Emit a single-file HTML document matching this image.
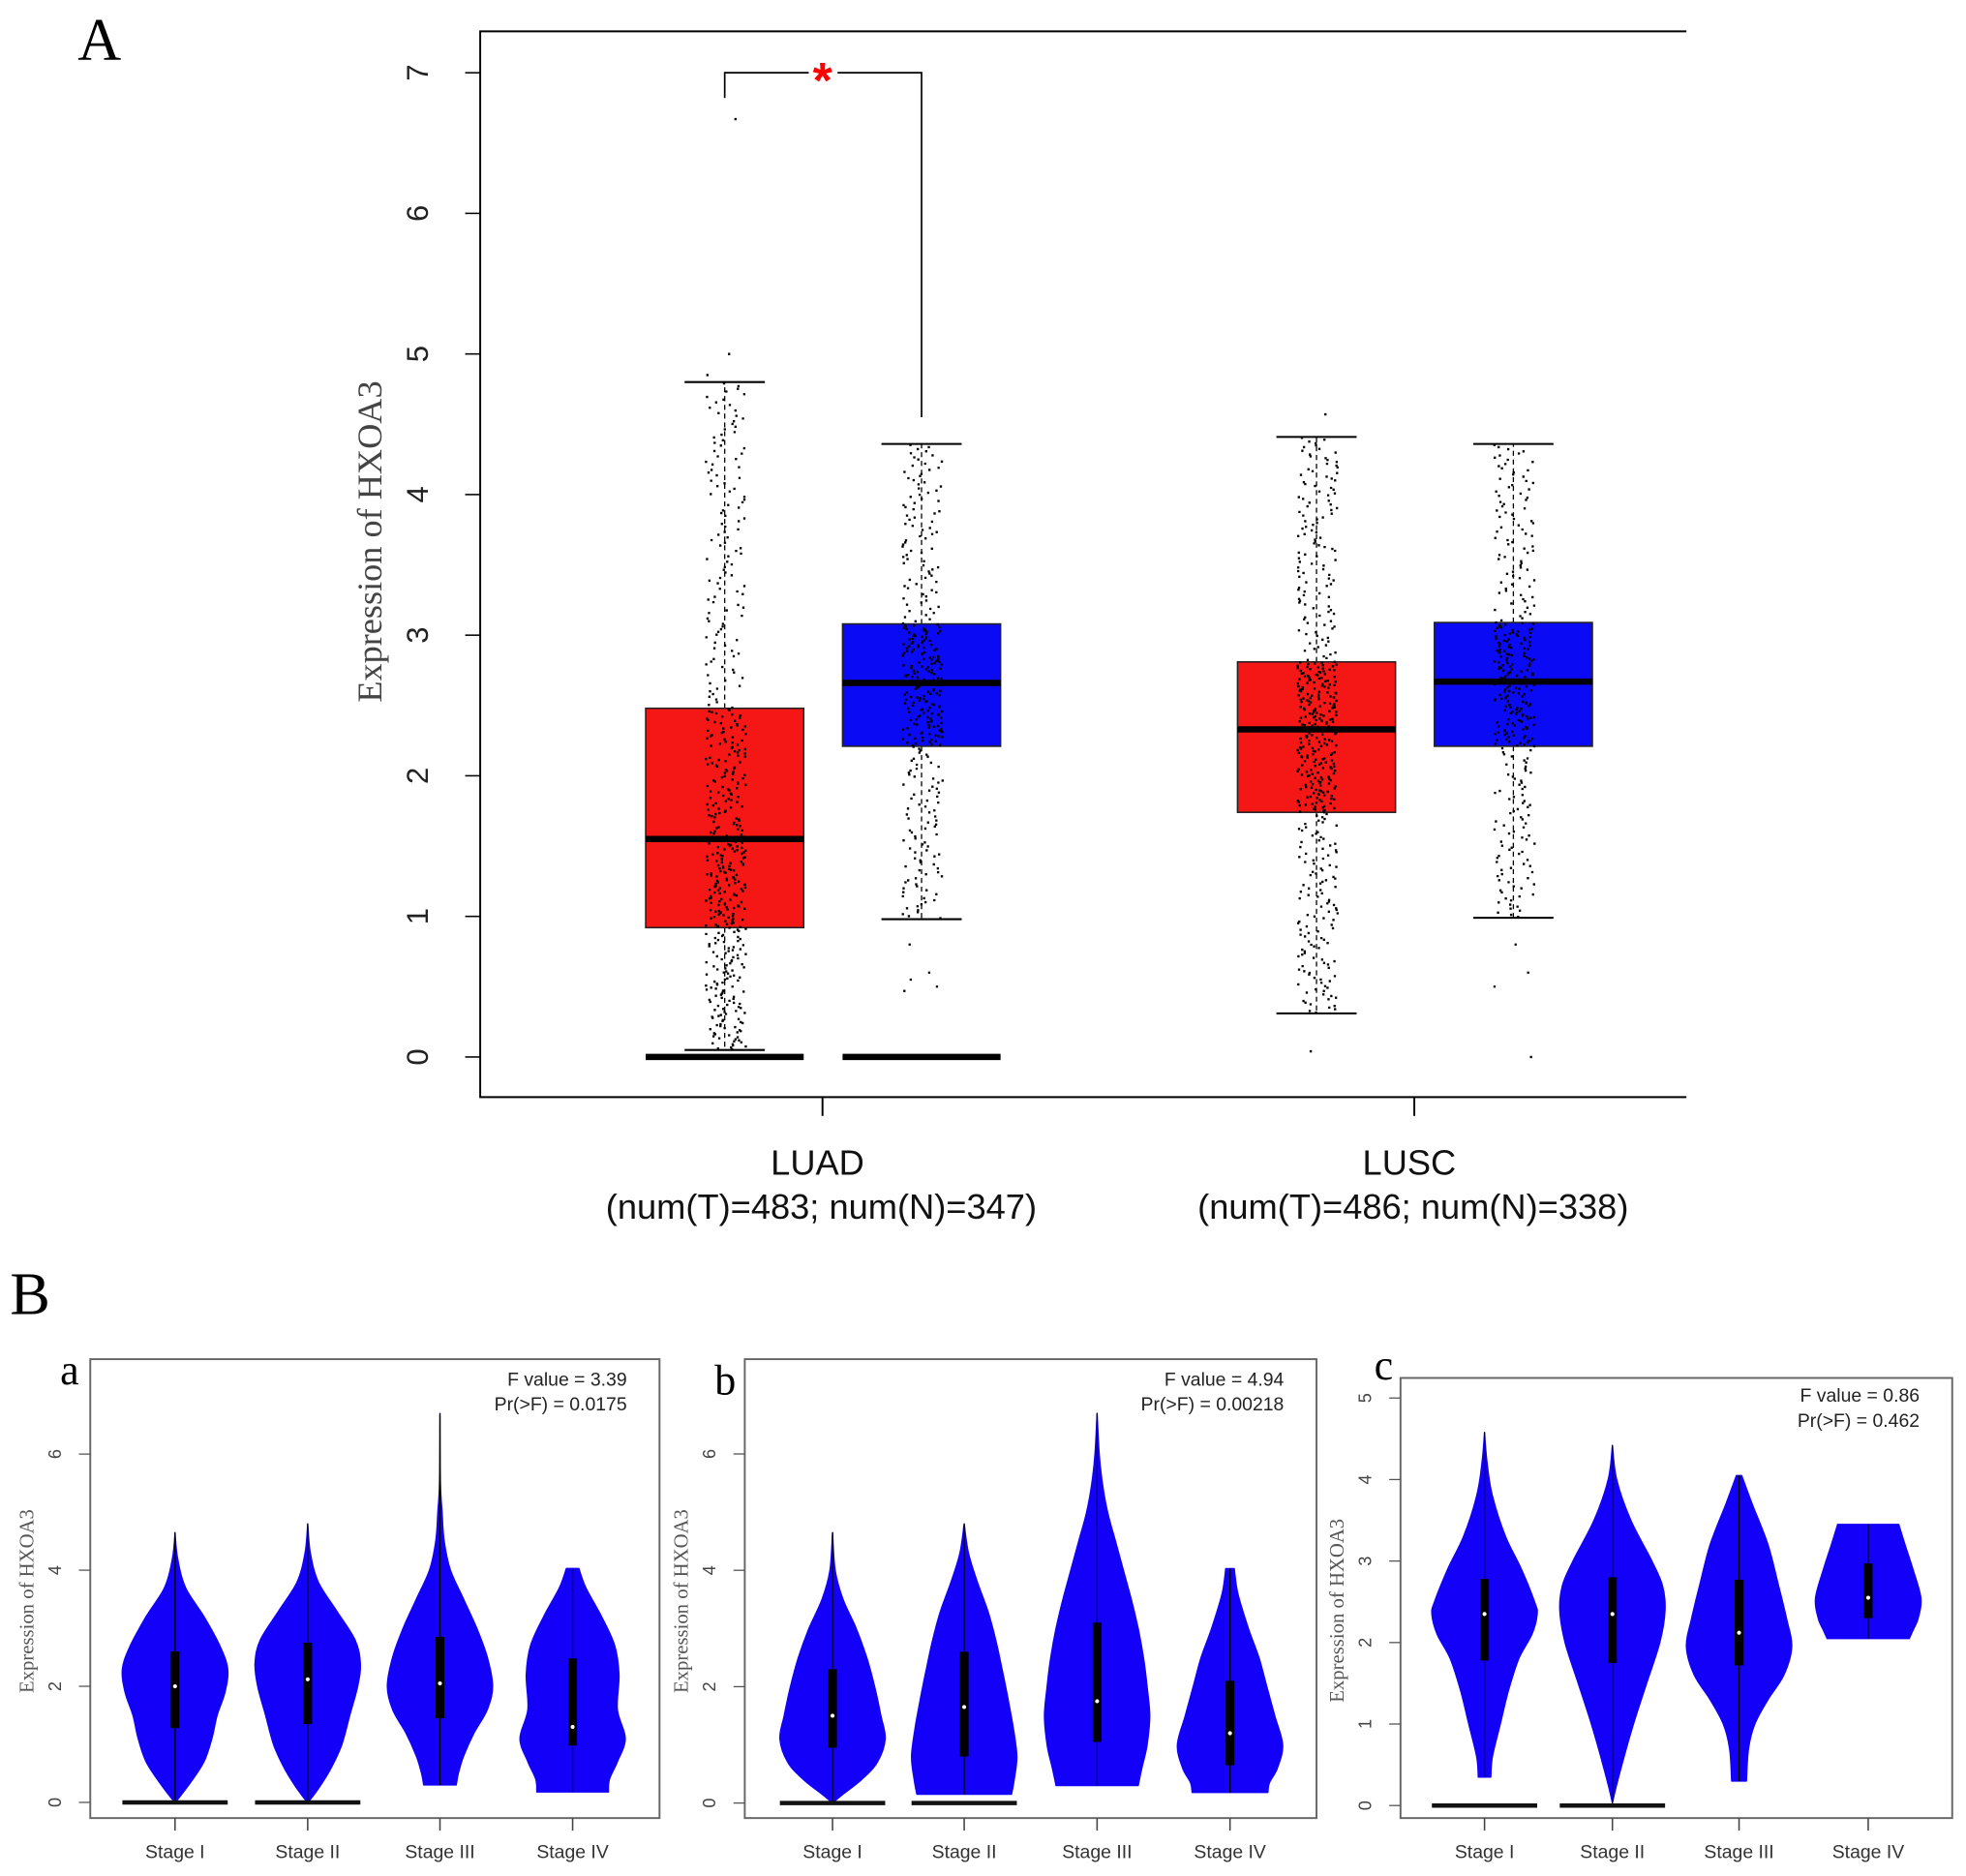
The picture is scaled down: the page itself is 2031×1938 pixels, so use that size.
<!DOCTYPE html>
<html><head><meta charset="utf-8"><style>
html,body{margin:0;padding:0;background:#fff;}
svg{display:block;}
</style></head><body>
<svg id="fig" xmlns="http://www.w3.org/2000/svg" width="2031" height="1938" viewBox="0 0 1568 1496.2" preserveAspectRatio="none">
<rect width="1568" height="1496.2" fill="#fff"/>
<g id="panelA"></g>
<g id="panelB"></g>
</svg>
<script>
// ---------- Panel A data ----------
const groupNames = ["LUAD", "LUSC"];
const groupCounts = ["(num(T)=483; num(N)=347)", "(num(T)=486; num(N)=338)"];
const tumorStats = [[0.05, 0.92, 1.55, 2.48, 4.80], [0.31, 1.74, 2.33, 2.81, 4.41]];
const normalStats = [[0.98, 2.21, 2.66, 3.08, 4.36], [0.99, 2.21, 2.67, 3.09, 4.36]];
const tumorN = [483, 486];
const normalN = [347, 338];
const tumorOutliers = [[6.67, 5.0, 4.85], [4.57, 0.04]];
const normalOutliers = [[0.6, 0.5, 0.55, 0.8, 0.47], [0.0, 0.6, 0.8, 0.5]];
const zeroBarT = [true, false];
const zeroBarN = [true, false];
const yTicksA = [0, 1, 2, 3, 4, 5, 6, 7];

// ---------- Panel B data ----------
const stageLabels = ["Stage I", "Stage II", "Stage III", "Stage IV"];
const panelLetters = ["a", "b", "c"];
const fValues = ["F value = 3.39", "F value = 4.94", "F value = 0.86"];
const pValues = ["Pr(>F) = 0.0175", "Pr(>F) = 0.00218", "Pr(>F) = 0.462"];
const yTicksB = [[0, 2, 4, 6], [0, 2, 4, 6], [0, 1, 2, 3, 4, 5]];
const violinsA = [
 [[4.65,0],[4.2,0.05],[3.7,0.2],[3.2,0.55],[2.7,0.85],[2.3,1.0],[1.9,0.95],[1.5,0.8],[1.1,0.7],[0.7,0.55],[0.35,0.3],[0.05,0.05],[0,0]],
 [[4.8,0],[4.3,0.05],[3.8,0.2],[3.3,0.55],[2.8,0.9],[2.4,1.0],[2.0,0.95],[1.5,0.8],[1.0,0.65],[0.6,0.45],[0.3,0.25],[0.05,0.05],[0,0]],
 [[6.7,0],[5.5,0.01],[5.0,0.04],[4.5,0.08],[4.0,0.2],[3.5,0.45],[3.0,0.7],[2.5,0.9],[2.0,1.0],[1.6,0.9],[1.2,0.65],[0.8,0.45],[0.5,0.35],[0.3,0.31]],
 [[4.03,0.12],[3.7,0.25],[3.2,0.55],[2.7,0.8],[2.2,0.88],[1.6,0.85],[1.1,1.0],[0.7,0.85],[0.4,0.7],[0.18,0.68]]
];
const violinsB = [
 [[4.65,0],[4.0,0.05],[3.5,0.2],[3.0,0.45],[2.5,0.65],[2.0,0.8],[1.5,0.92],[1.1,1.0],[0.7,0.85],[0.4,0.55],[0.15,0.2],[0,0]],
 [[4.8,0],[4.3,0.08],[3.8,0.25],[3.3,0.45],[2.8,0.6],[2.3,0.72],[1.8,0.83],[1.3,0.93],[0.8,1.0],[0.4,0.95],[0.15,0.9]],
 [[6.7,0],[6.0,0.04],[5.5,0.1],[5.0,0.2],[4.5,0.35],[4.0,0.5],[3.5,0.65],[3.0,0.78],[2.5,0.88],[2.0,0.95],[1.5,1.0],[1.0,0.95],[0.6,0.85],[0.3,0.78]],
 [[4.03,0.08],[3.6,0.15],[3.0,0.35],[2.5,0.55],[2.0,0.7],[1.5,0.85],[1.0,1.0],[0.6,0.9],[0.35,0.75],[0.18,0.72]]
];
const violinsC = [
 [[4.58,0],[4.2,0.05],[3.8,0.15],[3.3,0.4],[2.9,0.7],[2.5,0.95],[2.35,1.0],[2.1,0.9],[1.8,0.65],[1.4,0.45],[1.0,0.3],[0.6,0.15],[0.35,0.12]],
 [[4.42,0],[4.0,0.08],[3.5,0.35],[3.0,0.75],[2.7,0.95],[2.4,1.0],[2.0,0.9],[1.5,0.65],[1.0,0.4],[0.5,0.18],[0.2,0.06],[0.03,0]],
 [[4.05,0.05],[3.7,0.25],[3.2,0.55],[2.7,0.75],[2.3,0.9],[1.95,1.0],[1.6,0.85],[1.3,0.55],[1.0,0.3],[0.7,0.18],[0.3,0.14]],
 [[3.45,0.58],[3.2,0.7],[2.9,0.85],[2.55,1.0],[2.3,0.95],[2.15,0.85],[2.05,0.78]]
];
const boxesA = [[1.28,2.0,2.6],[1.35,2.12,2.75],[1.45,2.05,2.85],[0.98,1.3,2.48]];
const boxesB = [[0.95,1.5,2.3],[0.8,1.65,2.6],[1.05,1.75,3.1],[0.65,1.2,2.1]];
const boxesC = [[1.78,2.35,2.78],[1.75,2.35,2.8],[1.72,2.12,2.77],[2.3,2.55,2.97]];
const zeroBarsB = [[true,true,false,false],[true,true,false,false],[true,true,false,false]];

const NS = "http://www.w3.org/2000/svg";
function mk(parent, tag, attrs, text) {
  const e = document.createElementNS(NS, tag);
  for (const k in attrs) e.setAttribute(k, attrs[k]);
  if (text !== undefined) e.textContent = text;
  parent.appendChild(e);
  return e;
}
// smooth Catmull-Rom path through points (continues an existing path)
function smooth(pts) {
  let d = "";
  for (let i = 0; i < pts.length - 1; i++) {
    const p0 = pts[Math.max(0, i - 1)], p1 = pts[i], p2 = pts[i + 1], p3 = pts[Math.min(pts.length - 1, i + 2)];
    const c1x = p1[0] + (p2[0] - p0[0]) / 6, c1y = p1[1] + (p2[1] - p0[1]) / 6;
    const c2x = p2[0] - (p3[0] - p1[0]) / 6, c2y = p2[1] - (p3[1] - p1[1]) / 6;
    d += `C${c1x.toFixed(1)},${c1y.toFixed(1)} ${c2x.toFixed(1)},${c2y.toFixed(1)} ${p2[0].toFixed(1)},${p2[1].toFixed(1)}`;
  }
  return d;
}

// ================= Panel A =================
(function(){
  const g = document.getElementById("panelA");
  const L = 383, R = 1345, T = 25, B = 875;
  const y = v => 843 - v * 112.14;
  const groupX = i => 656 + i * 472;
  const tx = i => groupX(i) - 78;
  const nx = i => groupX(i) + 79;
  const boxHalf = 63;

  let t = mk(g, "text", {x: 62, y: 48, "font-family": "Liberation Serif, serif", "font-size": 48, fill: "#000"}, "A");
  
  

  let ax = mk(g, "path", {d: `M${R},${T}H${L}V${B}H${R}`, fill: "none", stroke: "#000", "stroke-width": 1.5});
  
  

  yTicksA.forEach(v => {
    let tk = mk(g, "line", {x1: L - 12, x2: L, y1: y(v), y2: y(v), stroke: "#000", "stroke-width": 1.2});
    
    
    let lb = mk(g, "text", {x: 0, y: 0, transform: `translate(333,${y(v)}) rotate(-90)`, "text-anchor": "middle", "dominant-baseline": "central", "font-family": "Liberation Sans, sans-serif", "font-size": 24, fill: "#222"}, String(v));
    
    
  });
  let yt = mk(g, "text", {x: 0, y: 0, transform: "translate(295,432) rotate(-90)", "text-anchor": "middle", "dominant-baseline": "central", "font-family": "Liberation Serif, serif", "font-size": 28, fill: "#444"}, "Expression of HXOA3");
  
  

  groupNames.forEach((name, i) => {
    let tk = mk(g, "line", {x1: groupX(i), x2: groupX(i), y1: B, y2: B + 15, stroke: "#000", "stroke-width": 1.5});
    
    
    let l1 = mk(g, "text", {x: groupX(i) - 4, y: 937, "text-anchor": "middle", "font-family": "Liberation Sans, sans-serif", "font-size": 28, fill: "#111"}, name);
    
    
    let l2 = mk(g, "text", {x: groupX(i) - 1, y: 972, "text-anchor": "middle", "font-family": "Liberation Sans, sans-serif", "font-size": 28, fill: "#111"}, groupCounts[i]);
    
    
  });

  let seed = 12345;
  const rnd = () => { seed = (seed * 1103515245 + 12345) % 2147483648; return seed / 2147483648; };
  const quant = (s, p) => {
    const ps = [0, 0.25, 0.5, 0.75, 1];
    for (let k = 0; k < 4; k++) if (p <= ps[k+1]) return s[k] + (s[k+1] - s[k]) * (p - ps[k]) / 0.25;
    return s[4];
  };

  function drawBox(cx, s, fill, n, outs, zero, name) {
    const bg = mk(g, "g", {});
    
    
    let w1 = mk(bg, "line", {x1: cx, x2: cx, y1: y(s[3]), y2: y(s[4]), stroke: "#000", "stroke-width": 1, "stroke-dasharray": "4,3"});
    
    
    let w2 = mk(bg, "line", {x1: cx, x2: cx, y1: y(s[1]), y2: y(s[0]), stroke: "#000", "stroke-width": 1, "stroke-dasharray": "4,3"});
    
    
    [s[0], s[4]].forEach(v => {
      let c = mk(bg, "line", {x1: cx - 32, x2: cx + 32, y1: y(v), y2: y(v), stroke: "#000", "stroke-width": 1.6});
      
      
    });
    let r = mk(bg, "rect", {x: cx - boxHalf, y: y(s[3]), width: boxHalf * 2, height: y(s[1]) - y(s[3]), fill: fill, stroke: "#222", "stroke-width": 1.2});
    
    
    let m = mk(bg, "line", {x1: cx - boxHalf, x2: cx + boxHalf, y1: y(s[2]), y2: y(s[2]), stroke: "#000", "stroke-width": 5});
    
    
    if (zero) {
      let z = mk(bg, "line", {x1: cx - boxHalf, x2: cx + boxHalf, y1: y(0), y2: y(0), stroke: "#000", "stroke-width": 5});
      
      
    }
    let d = "";
    for (let k = 0; k < n; k++) {
      const v = quant(s, (k + 0.5) / n);
      const px = cx + (rnd() - 0.5) * 32;
      d += `M${px.toFixed(1)},${y(v).toFixed(1)}h1.8`;
    }
    outs.forEach(v => { d += `M${(cx + (rnd() - 0.5) * 32).toFixed(1)},${y(v).toFixed(1)}h1.8`; });
    let pts = mk(bg, "path", {d: d, stroke: "#000", "stroke-width": 1.8, fill: "none"});
    
    
  }
  groupNames.forEach((nm, i) => {
    drawBox(tx(i), tumorStats[i], "#f51616", tumorN[i], tumorOutliers[i], zeroBarT[i], "box-" + nm.toLowerCase() + "-tumor");
    drawBox(nx(i), normalStats[i], "#0a0af5", normalN[i], normalOutliers[i], zeroBarN[i], "box-" + nm.toLowerCase() + "-normal");
  });

  let br = mk(g, "path", {d: `M${tx(0)},${y(6.82)}V${y(7)}H645M668,${y(7)}H${nx(0)}V${y(4.55)}`, fill: "none", stroke: "#000", "stroke-width": 1.3});
  
  
  let st = mk(g, "text", {x: 656, y: 78, "text-anchor": "middle", "font-family": "Liberation Sans, sans-serif", "font-size": 40, "font-weight": "bold", fill: "#f00"}, "*");
  
  
})();

// ================= Panel B =================
(function(){
  const g = document.getElementById("panelB");
  let t = mk(g, "text", {x: 8, y: 1048, "font-family": "Liberation Serif, serif", "font-size": 48, fill: "#000"}, "B");
  
  

  const panels = [
    {L: 72, R: 526, T: 1084, B: 1450, y0: 1437.5, unit: 46.3, centers: [139.6, 245.4, 350.9, 456.7], violins: violinsA, boxes: boxesA, letterX: 48, letterY: 1104, textR: 500, textY: 1105},
    {L: 594, R: 1050, T: 1084, B: 1450, y0: 1438, unit: 46.4, centers: [664, 769, 875, 981], violins: violinsB, boxes: boxesB, letterX: 570, letterY: 1112, textR: 1024, textY: 1105},
    {L: 1117, R: 1557, T: 1099, B: 1450, y0: 1440, unit: 65.0, centers: [1184, 1286, 1387, 1490], violins: violinsC, boxes: boxesC, letterX: 1096, letterY: 1100, textR: 1531, textY: 1118}
  ];
  const maxHW = 42;
  panels.forEach((p, pi) => {
    const pg = mk(g, "g", {});
    
    
    const y = v => p.y0 - v * p.unit;
    let fr = mk(pg, "rect", {x: p.L, y: p.T, width: p.R - p.L, height: p.B - p.T, fill: "none", stroke: "#666", "stroke-width": 1.5});
    
    
    let lt = mk(pg, "text", {x: p.letterX, y: p.letterY, "font-family": "Liberation Serif, serif", "font-size": 34, fill: "#000"}, panelLetters[pi]);
    
    
    let f1 = mk(pg, "text", {x: p.textR, y: p.textY, "text-anchor": "end", "font-family": "Liberation Sans, sans-serif", "font-size": 15, fill: "#222"}, fValues[pi]);
    
    
    let f2 = mk(pg, "text", {x: p.textR, y: p.textY + 20, "text-anchor": "end", "font-family": "Liberation Sans, sans-serif", "font-size": 15, fill: "#222"}, pValues[pi]);
    
    

    yTicksB[pi].forEach(v => {
      let tk = mk(pg, "line", {x1: p.L - 9, x2: p.L, y1: y(v), y2: y(v), stroke: "#555", "stroke-width": 1});
      
      
      let lb = mk(pg, "text", {x: 0, y: 0, transform: `translate(${p.L - 28},${y(v)}) rotate(-90)`, "text-anchor": "middle", "dominant-baseline": "central", "font-family": "Liberation Sans, sans-serif", "font-size": 14, fill: "#444"}, String(v));
      
      
    });
    let yt = mk(pg, "text", {x: 0, y: 0, transform: `translate(${p.L - 50},${(p.T + p.B) / 2 + 10}) rotate(-90)`, "text-anchor": "middle", "dominant-baseline": "central", "font-family": "Liberation Serif, serif", "font-size": 16, fill: "#555"}, "Expression of HXOA3");
    
    

    stageLabels.forEach((s, i) => {
      const cx = p.centers[i];
      let tk = mk(pg, "line", {x1: cx, x2: cx, y1: p.B, y2: p.B + 10, stroke: "#444", "stroke-width": 1.2});
      
      
      let lb = mk(pg, "text", {x: cx, y: 1482, "text-anchor": "middle", "font-family": "Liberation Sans, sans-serif", "font-size": 15, fill: "#333"}, s);
      
      

      const dens = p.violins[i];
      const right = dens.map(pt => [cx + pt[1] * maxHW, y(pt[0])]);
      const left = dens.slice().reverse().map(pt => [cx - pt[1] * maxHW, y(pt[0])]);
      let d = `M${right[0][0].toFixed(1)},${right[0][1].toFixed(1)}` + smooth(right) +
              `L${left[0][0].toFixed(1)},${left[0][1].toFixed(1)}` + smooth(left) + "Z";
      let vp = mk(pg, "path", {d: d, fill: "#1200f8", stroke: "#1200f8", "stroke-width": 1, "stroke-linejoin": "round"});
      
      
      let ln = mk(pg, "line", {x1: cx, x2: cx, y1: y(dens[0][0]), y2: y(dens[dens.length - 1][0]), stroke: "#000", "stroke-width": 1});
      
      
      const b = p.boxes[i];
      let bx = mk(pg, "rect", {x: cx - 3.5, y: y(b[2]), width: 7, height: y(b[0]) - y(b[2]), fill: "#000"});
      
      
      let md = mk(pg, "circle", {cx: cx, cy: y(b[1]), r: 1.6, fill: "#fff"});
      
      
      if (zeroBarsB[pi][i]) {
        let z = mk(pg, "line", {x1: cx - maxHW, x2: cx + maxHW, y1: y(0), y2: y(0), stroke: "#111", "stroke-width": 3.5});
        
        
      }
    });
  });
})();
</script>
</body></html>
